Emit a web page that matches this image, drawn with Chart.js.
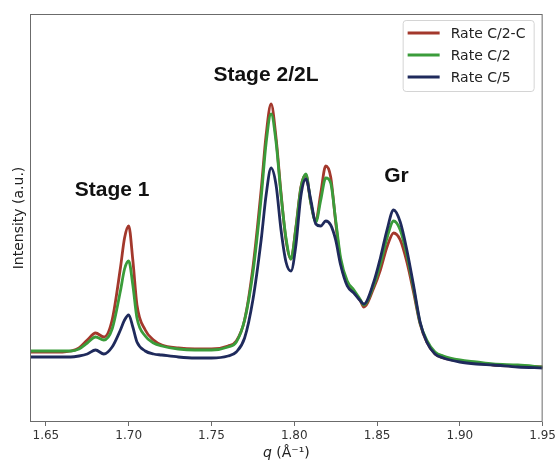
<!DOCTYPE html>
<html><head><meta charset="utf-8">
<script src="https://cdn.jsdelivr.net/npm/chart.js@4.4.1/dist/chart.umd.min.js"></script>
<style>html,body{margin:0;padding:0;background:#fff}#wrap{width:559px;height:461px}</style>
</head><body><div id="wrap"><canvas id="c" width="559" height="461"></canvas></div>
<script>
// scattering vector q (1/Å)
const q = [1.640,1.650,1.660,1.665,1.670,1.675,1.680,1.685,1.690,1.695,1.6975,1.700,1.7025,1.705,1.710,1.715,1.720,1.730,1.740,1.750,1.760,1.765,1.770,1.775,1.780,1.783,1.786,1.789,1.792,1.795,1.798,1.801,1.804,1.807,1.810,1.813,1.816,1.819,1.822,1.825,1.828,1.832,1.836,1.840,1.842,1.848,1.852,1.856,1.860,1.864,1.868,1.872,1.876,1.880,1.885,1.890,1.900,1.910,1.920,1.935,1.950];
// intensities (a.u.)
const rateC2C = [70,70,70,71,74,82,89,85,102,154,184,196,162,117,92,82,77,74,73,73,76,81,102,154,232,287,318,284,229,182,163,195,235,247,219,201,229,256,245,200,160,139,130,121,115,134,152,175,189,182,160,130,98,80,68,64,61,59,57,56,55];
const rateC2  = [71,71,71,71,73,79,85,82,93,131,153,161,137,104,86,79,76,73,72,72,75,80,102,149,224,279,308,280,227,184,163,194,234,248,219,200,222,244,239,202,164,141,132,122,117,137,158,184,201,192,167,134,99,82,70,66,62,60,58,57,55];
const rateC5  = [65,65,65,65,66,68,72,68,75,92,102,107,95,80,71,68,67,65,64,64,66,70,84,122,182,227,254,237,192,160,151,177,226,243,222,198,196,201,197,182,157,136,129,121,118,140,164,192,212,200,172,137,100,80,68,64,60,58,57,55,54];
const seriesLabels = ['Rate C/2-C','Rate C/2','Rate C/5'];
const seriesColors = ['#a3382c','#3a9c3a','#1f2a5c'];
const xTickValues = [1.65,1.70,1.75,1.80,1.85,1.90,1.95];
const annotationTexts = ['Stage 1','Stage 2/2L','Gr'];
const annotationQ = [1.6900,1.7829,1.8617];
const annotationI = [232,347,246];

const seriesData = [rateC2C, rateC2, rateC5];
const toPts = arr => q.map((v,i)=>({x:v,y:arr[i]}));

const decor = {
  id:'decor',
  afterDraw(chart){
    const {ctx, chartArea:a, scales:{x,y}} = chart;
    ctx.save();
    // frame
    ctx.strokeStyle = '#6b6b6b'; ctx.lineWidth = 1;
    ctx.strokeRect(a.left+0.5, a.top+0.5, a.right-a.left-1, a.bottom-a.top-1);
    // annotations
    ctx.fillStyle = '#111';
    ctx.font = 'bold 21px "Liberation Sans", Arial, sans-serif';
    ctx.textAlign = 'center'; ctx.textBaseline = 'middle';
    annotationTexts.forEach((t,i)=>ctx.fillText(t, x.getPixelForValue(annotationQ[i]), y.getPixelForValue(annotationI[i])));
    // legend
    const bw = 131, bh = 71;
    const bx = a.right - 9 - bw, by = a.top + 6;
    ctx.beginPath();
    if (ctx.roundRect) ctx.roundRect(bx+0.5, by+0.5, bw, bh, 3); else ctx.rect(bx+0.5, by+0.5, bw, bh);
    ctx.fillStyle = 'rgba(255,255,255,0.85)'; ctx.fill();
    ctx.strokeStyle = '#d4d4d4'; ctx.lineWidth = 1; ctx.stroke();
    ctx.font = '14px "DejaVu Sans", sans-serif';
    ctx.textAlign = 'left'; ctx.textBaseline = 'middle';
    chart.data.datasets.forEach((ds,i)=>{
      const ly = by + 13 + i*22;
      ctx.strokeStyle = ds.borderColor; ctx.lineWidth = 2.8;
      ctx.beginPath(); ctx.moveTo(bx+5, ly); ctx.lineTo(bx+37, ly); ctx.stroke();
      ctx.fillStyle = '#222';
      ctx.fillText(ds.label, bx+48, ly+1);
    });
    // x axis title with italic q
    const cx = (a.left + a.right)/2, cy = 453;
    ctx.fillStyle = '#222';
    ctx.font = 'italic 14px "DejaVu Sans", sans-serif';
    const w1 = ctx.measureText('q').width;
    ctx.font = '14px "DejaVu Sans", sans-serif';
    const rest = ' (Å⁻¹)';
    const w2 = ctx.measureText(rest).width;
    const sx = cx - (w1+w2)/2;
    ctx.font = 'italic 14px "DejaVu Sans", sans-serif';
    ctx.fillText('q', sx, cy);
    ctx.font = '14px "DejaVu Sans", sans-serif';
    ctx.fillText(rest, sx + w1, cy);
    ctx.restore();
  }
};

new Chart(document.getElementById('c'), {
  type:'line',
  data:{
    datasets: seriesData.map((arr,i)=>({
      label: seriesLabels[i],
      data: toPts(arr),
      borderColor: seriesColors[i],
      backgroundColor: seriesColors[i],
      borderWidth: 2.8,
      pointRadius: 0,
      fill: false,
      cubicInterpolationMode: 'monotone',
      order: 2 - i
    }))
  },
  options:{
    responsive:false,
    animation:false,
    devicePixelRatio:1,
    layout:{padding:{left:0,top:14,right:13,bottom:0}},
    plugins:{legend:{display:false}, tooltip:{enabled:false}},
    scales:{
      x:{
        type:'linear', min:1.6404, max:1.95,
        afterBuildTicks(s){ s.ticks = xTickValues.map(v=>({value:v})); },
        afterFit(s){ s.height = 39; },
        ticks:{callback:v=>Number(v).toFixed(2), font:{family:'"DejaVu Sans"', size:12}, color:'#333', padding:3, autoSkip:false, maxRotation:0},
        grid:{display:true, drawOnChartArea:false, drawTicks:true, tickLength:4, color:'#6b6b6b'},
        border:{display:false}
      },
      y:{
        min:0, max:408,
        afterFit(s){ s.width = 30; },
        ticks:{display:false},
        grid:{display:false, drawTicks:false},
        border:{display:false},
        title:{display:true, text:'Intensity (a.u.)', font:{family:'"DejaVu Sans"', size:14}, color:'#222', padding:{top:11,bottom:0}}
      }
    }
  },
  plugins:[decor]
});
</script>
</body></html>
